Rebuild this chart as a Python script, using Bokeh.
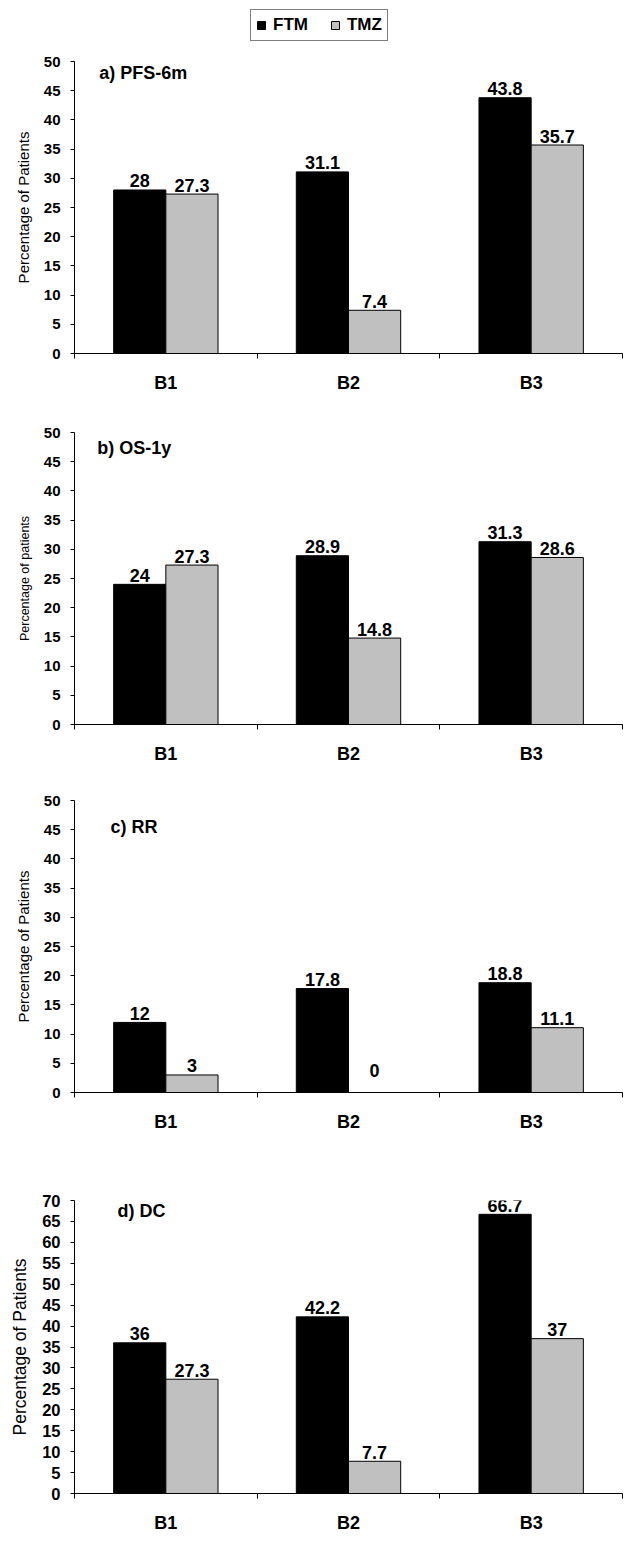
from bokeh.plotting import figure
from bokeh.models import Range1d, FixedTicker, LinearAxis, Label, Legend, LegendItem, ColumnDataSource
from bokeh.layouts import column
from bokeh.core.properties import value
from bokeh.transform import dodge
from bokeh.embed import file_html
from bokeh.resources import INLINE

# ---------------- data ----------------
categories = ["B1", "B2", "B3"]
series_names = ["FTM", "TMZ"]

pfs_ftm = [28, 31.1, 43.8]
pfs_tmz = [27.3, 7.4, 35.7]

os_ftm = [24, 28.9, 31.3]
os_tmz = [27.3, 14.8, 28.6]

rr_ftm = [12, 17.8, 18.8]
rr_tmz = [3, 0, 11.1]

dc_ftm = [36, 42.2, 66.7]
dc_tmz = [27.3, 7.7, 37]

panel_titles = ["a) PFS-6m", "b) OS-1y", "c) RR", "d) DC"]
y_titles = ["Percentage of Patients", "Percentage of patients",
            "Percentage of Patients", "Percentage of Patients"]
y_max = [50, 50, 50, 70]
y_step = 5

# ---------------- style ----------------
FONT = "Liberation Sans"
BAR_W = 1 / 3.5
FTM_COLOR = "#000000"
TMZ_COLOR = "#C0C0C0"
W = 630
LEG_H = 48
BL, BR = 74, 8

layouts = [
    dict(h=357, bt=13, bb=52, tick="15px", lab="15px", tx=0.135, ty=49.7),
    dict(h=371, bt=27, bb=52, tick="15px", lab="12.5px", tx=0.125, ty=49.1),
    dict(h=368, bt=24, bb=52, tick="15px", lab="15px", tx=0.197, ty=47.1),
    dict(h=399, bt=56, bb=50, tick="16.5px", lab="17.5px", tx=0.235, ty=69.8),
]

panels_data = [(pfs_ftm, pfs_tmz), (os_ftm, os_tmz), (rr_ftm, rr_tmz), (dc_ftm, dc_tmz)]


def fmt(v):
    return f"{v:g}"


centers = [k + 0.5 for k in range(len(categories))]
sources = []
for ftm, tmz in panels_data:
    sources.append(ColumnDataSource(dict(
        cat=categories, xc=centers, ftm=ftm, tmz=tmz,
        ftm_lbl=[fmt(v) for v in ftm], tmz_lbl=[fmt(v) for v in tmz],
        ftm_off=[-9 if v > 0 else -22 for v in ftm],
        tmz_off=[-9 if v > 0 else -22 for v in tmz],
    )))

# ---------------- legend strip (series key) ----------------
pl = figure(width=W, height=LEG_H, x_range=Range1d(0, len(categories)), y_range=Range1d(0, 1),
            output_backend="svg", toolbar_location=None, x_axis_type=None, y_axis_type=None,
            min_border_left=BL, min_border_right=BR, min_border_top=0, min_border_bottom=0,
            outline_line_color=None, background_fill_color="white",
            border_fill_color="white")
pl.xgrid.grid_line_color = None
pl.ygrid.grid_line_color = None
k1 = pl.vbar(x=dodge("xc", -BAR_W / 2), top="ftm", width=BAR_W, source=sources[0],
             fill_color=FTM_COLOR, line_color="black", visible=False)
k2 = pl.vbar(x=dodge("xc", BAR_W / 2), top="tmz", width=BAR_W, source=sources[0],
             fill_color=TMZ_COLOR, line_color="black", visible=False)
legend = Legend(items=[LegendItem(label=series_names[0], renderers=[k1]),
                       LegendItem(label=series_names[1], renderers=[k2])],
                location=(250 - BL, LEG_H - 41), orientation="horizontal",
                glyph_width=10, glyph_height=10, label_standoff=7, spacing=22,
                padding=5, margin=0, border_line_color="black", border_line_width=1,
                background_fill_color="white", background_fill_alpha=1,
                inactive_fill_alpha=0,
                label_text_font=FONT, label_text_font_style="bold",
                label_text_font_size="17px", label_text_color="black")
pl.add_layout(legend)

figs = [pl]
for i, lay in enumerate(layouts):
    ymax = y_max[i]
    src = sources[i]
    p = figure(width=W, height=lay["h"], x_range=Range1d(0, len(categories)),
               y_range=Range1d(0, ymax), output_backend="svg", toolbar_location=None,
               x_axis_type=None, min_border_left=BL, min_border_right=BR,
               min_border_top=lay["bt"], min_border_bottom=lay["bb"],
               outline_line_color=None, background_fill_color="white",
               border_fill_color="white")
    p.ygrid.grid_line_color = None

    p.vbar(x=dodge("xc", -BAR_W / 2), top="ftm", width=BAR_W, bottom=0, source=src,
           fill_color=FTM_COLOR, line_color="black", line_width=1)
    p.vbar(x=dodge("xc", BAR_W / 2), top="tmz", width=BAR_W, bottom=0, source=src,
           fill_color=TMZ_COLOR, line_color="black", line_width=1)

    for ycol, lcol, ocol, off in [("ftm", "ftm_lbl", "ftm_off", -BAR_W / 2),
                                  ("tmz", "tmz_lbl", "tmz_off", BAR_W / 2)]:
        p.text(x=dodge("xc", off), y=ycol, text=lcol, y_offset=ocol, source=src,
               text_align="center", text_baseline="alphabetic",
               text_font=value(FONT), text_font_style="bold", text_font_size="18px",
               text_color="black")

    # y axis
    ya = p.yaxis[0]
    ya.ticker = FixedTicker(ticks=list(range(0, ymax + 1, y_step)))
    ya.major_tick_in = 0
    ya.major_tick_out = 4
    ya.minor_tick_line_color = None
    ya.axis_line_color = "black"
    ya.major_tick_line_color = "black"
    ya.major_label_text_font = FONT
    ya.major_label_text_font_style = "bold"
    ya.major_label_text_font_size = lay["tick"]
    ya.major_label_text_color = "black"
    ya.major_label_standoff = 10
    ya.axis_label = y_titles[i]
    ya.axis_label_text_font = FONT
    ya.axis_label_text_font_style = "normal"
    ya.axis_label_text_font_size = lay["lab"]
    ya.axis_label_text_color = "black"
    ya.axis_label_standoff = 9

    # x axis: category labels at centres, tick marks at boundaries
    xa = LinearAxis(
        ticker=FixedTicker(ticks=centers, minor_ticks=list(range(len(categories) + 1))),
        major_label_overrides={c: name for c, name in zip(centers, categories)},
        major_tick_line_color=None, major_tick_in=0, major_tick_out=0,
        minor_tick_in=0, minor_tick_out=5, minor_tick_line_color="black",
        axis_line_color="black",
        major_label_standoff=14,
        major_label_text_font=FONT, major_label_text_font_style="bold",
        major_label_text_font_size="18px", major_label_text_color="black",
    )
    p.add_layout(xa, "below")

    p.add_layout(Label(x=lay["tx"], y=lay["ty"], text=panel_titles[i],
                       text_baseline="top", text_align="left",
                       text_font=FONT, text_font_style="bold", text_font_size="18px",
                       text_color="black"))

    figs.append(p)

layout = column(*figs, spacing=0)
open("out.html", "w").write(file_html(layout, INLINE))
